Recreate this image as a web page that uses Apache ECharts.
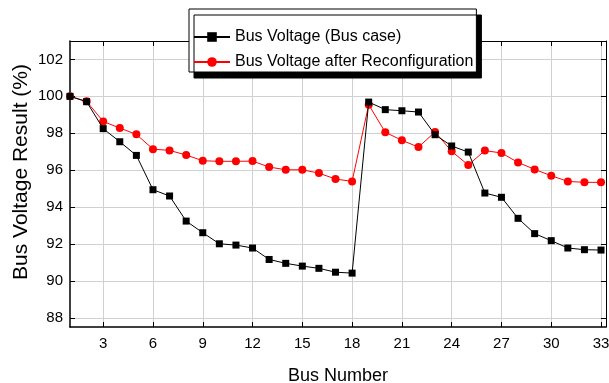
<!DOCTYPE html>
<html>
<head>
<meta charset="utf-8">
<script src="https://cdn.jsdelivr.net/npm/echarts@6/dist/echarts.min.js"></script>
<style>
  html, body { margin: 0; padding: 0; background: #fff; }
  #main { width: 609px; height: 383px; }
</style>
</head>
<body>
<div id="main"></div>
<script>
// bus numbers 1..33
const buses = [1, 2, 3, 4, 5, 6, 7, 8, 9, 10, 11, 12, 13, 14, 15, 16, 17,
  18, 19, 20, 21, 22, 23, 24, 25, 26, 27, 28, 29, 30, 31, 32, 33];
// Bus Voltage (Bus case)
const baseCase = [100.0, 99.71, 98.25, 97.54, 96.80, 94.94, 94.60, 93.24, 92.61,
  92.01, 91.94, 91.78, 91.16, 90.95, 90.80, 90.68, 90.47, 90.42,
  99.69, 99.28, 99.22, 99.15, 97.92, 97.31, 96.98, 94.76, 94.53,
  93.39, 92.56, 92.18, 91.78, 91.69, 91.67];
// Bus Voltage after Reconfiguration
const reconfig = [100.0, 99.73, 98.64, 98.28, 97.94, 97.14, 97.07, 96.82, 96.51,
  96.48, 96.48, 96.49, 96.17, 96.02, 96.02, 95.84, 95.52, 95.39,
  99.55, 98.05, 97.62, 97.25, 98.07, 97.02, 96.28, 97.06, 96.93,
  96.42, 96.04, 95.70, 95.39, 95.34, 95.34];
const xTicks = [3, 6, 9, 12, 15, 18, 21, 24, 27, 30, 33];
const yTicks = [88, 90, 92, 94, 96, 98, 100, 102];

const font = "'Liberation Sans', Arial, sans-serif";

let myChart = echarts.init(document.getElementById('main'));

let option = {
  animation: false,
  grid: { left: 70, top: 41, right: 3, bottom: 56, outerBoundsMode: 'none' },
  legend: {
    orient: 'vertical',
    left: 189,
    top: 9,
    padding: [20, 3, 2, 4],
    itemWidth: 36,
    itemHeight: 12,
    itemGap: 9,
    backgroundColor: '#fff',
    borderColor: '#000',
    borderWidth: 1,
    borderRadius: 0,
    shadowColor: '#000',
    shadowBlur: 0,
    shadowOffsetX: 5,
    shadowOffsetY: 6,
    textStyle: { fontFamily: font, fontSize: 16, lineHeight: 16, color: '#000' },
    data: ['Bus Voltage (Bus case)', 'Bus Voltage after Reconfiguration']
  },
  xAxis: [
    {
      type: 'value',
      min: 1,
      max: 33.3,
      name: 'Bus Number',
      nameLocation: 'middle',
      nameGap: 40,
      nameMoveOverlap: false,
      nameTextStyle: { fontFamily: font, fontSize: 18, color: '#000' },
      axisLine: { lineStyle: { color: '#000', width: 1.5 } },
      axisTick: { inside: true, length: 5, customValues: xTicks, lineStyle: { color: '#000' } },
      axisLabel: { customValues: xTicks, fontFamily: font, fontSize: 15, color: '#000', margin: 9 },
      splitLine: { show: true, lineStyle: { color: '#d0d0d0', width: 1 } }
    },
    {
      type: 'value',
      position: 'top',
      min: 1,
      max: 33.3,
      axisLine: { show: true, onZero: false, lineStyle: { color: '#000', width: 1 } },
      axisTick: { inside: true, length: 5, customValues: xTicks, lineStyle: { color: '#000' } },
      axisLabel: { show: false },
      splitLine: { show: false }
    }
  ],
  yAxis: [
    {
      type: 'value',
      min: 87.5,
      max: 103,
      name: 'Bus Voltage Result (%)',
      nameLocation: 'middle',
      nameGap: 38,
      nameMoveOverlap: false,
      nameTextStyle: { fontFamily: font, fontSize: 21, color: '#000', padding: [0, 0, 0, 24] },
      axisLine: { show: true, lineStyle: { color: '#000', width: 1.5 } },
      axisTick: { show: true, inside: true, length: 5, customValues: yTicks, lineStyle: { color: '#000' } },
      axisLabel: { customValues: yTicks, fontFamily: font, fontSize: 15, color: '#000', margin: 7 },
      splitLine: { show: true, lineStyle: { color: '#d0d0d0', width: 1 } }
    },
    {
      type: 'value',
      position: 'right',
      min: 87.5,
      max: 103,
      axisLine: { show: true, onZero: false, lineStyle: { color: '#000', width: 1 } },
      axisTick: { show: true, inside: true, length: 5, customValues: yTicks, lineStyle: { color: '#000' } },
      axisLabel: { show: false },
      splitLine: { show: false }
    }
  ],
  series: [
    {
      name: 'Bus Voltage (Bus case)',
      type: 'line',
      data: buses.map((b, i) => [b, baseCase[i]]),
      symbol: 'rect',
      symbolSize: 7,
      itemStyle: { color: '#000' },
      lineStyle: { color: '#000', width: 1 },
      z: 3
    },
    {
      name: 'Bus Voltage after Reconfiguration',
      type: 'line',
      data: buses.map((b, i) => [b, reconfig[i]]),
      symbol: 'circle',
      symbolSize: 8,
      itemStyle: { color: '#ff0000' },
      lineStyle: { color: '#ff0000', width: 1 },
      z: 2
    }
  ]
};

myChart.setOption(option);
</script>
</body>
</html>
